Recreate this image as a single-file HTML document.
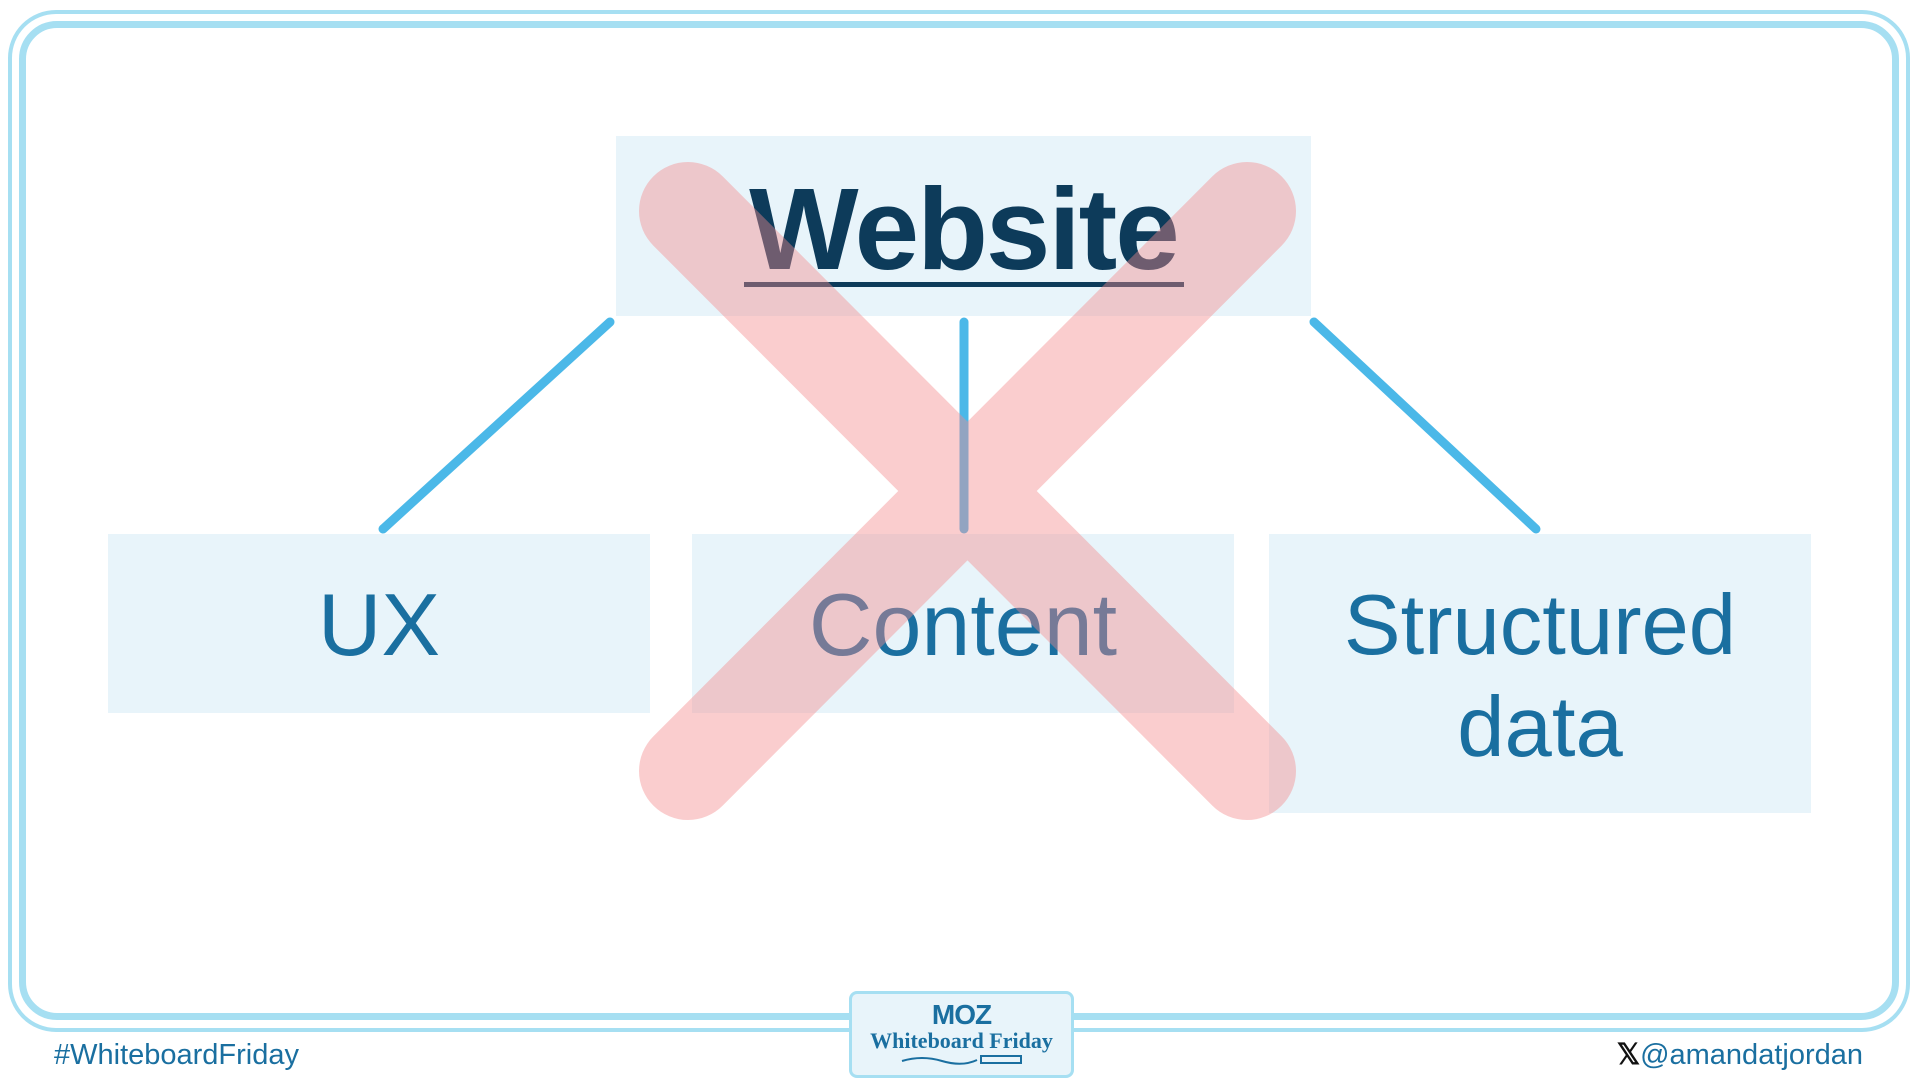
<!DOCTYPE html>
<html><head><meta charset="utf-8"><style>
html,body{margin:0;padding:0;background:#fff;}
body{width:1920px;height:1080px;position:relative;overflow:hidden;font-family:"Liberation Sans",sans-serif;}
.b{position:absolute;background:#e8f4fa;}
.t{position:absolute;color:#1a6fa0;font-size:88px;text-align:center;line-height:100px;}
</style></head><body>
<div style="position:absolute;left:8px;top:10px;width:1902px;height:1022px;border:4px solid #a6dff2;border-radius:48px;box-sizing:border-box;"></div>
<div style="position:absolute;left:19px;top:21px;width:1880px;height:999px;border:7px solid #a6dff2;border-radius:38px;box-sizing:border-box;"></div>
<div class="b" style="left:616px;top:136px;width:695px;height:180px;"></div>
<div class="b" style="left:108px;top:534px;width:542px;height:179px;"></div>
<div class="b" style="left:692px;top:534px;width:542px;height:179px;"></div>
<div class="b" style="left:1269px;top:534px;width:542px;height:279px;"></div>
<div style="position:absolute;left:616px;top:164px;width:695px;text-align:center;font-size:116px;font-weight:bold;color:#0d3b5a;line-height:130px;letter-spacing:-2px;">Website</div>
<div style="position:absolute;left:744px;top:282px;width:440px;height:5px;background:#0d3b5a;"></div>
<div class="t" style="left:108px;top:575px;width:542px;">UX</div>
<div class="t" style="left:692px;top:575px;width:542px;">Content</div>
<div class="t" style="left:1269px;top:575px;width:542px;line-height:102px;font-size:85px;">Structured<br>data</div>
<svg width="1920" height="1080" style="position:absolute;left:0;top:0;">
<g stroke="#4bb8e8" stroke-width="9" stroke-linecap="round">
<line x1="610" y1="322" x2="383" y2="529"/><line x1="964" y1="322" x2="964" y2="529"/><line x1="1314" y1="322" x2="1536" y2="529"/>
</g>
<g opacity="0.42" stroke="#f58a8c" stroke-width="98" stroke-linecap="round">
<line x1="688" y1="211" x2="1247" y2="771"/><line x1="1247" y1="211" x2="688" y2="771"/>
</g>
</svg>
<div style="position:absolute;left:54px;top:1039px;font-size:29px;color:#1a6fa0;">#WhiteboardFriday</div>
<div style="position:absolute;right:57px;top:1037px;font-size:29px;color:#1a6fa0;"><span style="color:#111;font-weight:bold;">𝕏</span>@amandatjordan</div>
<div style="position:absolute;left:849px;top:991px;width:225px;height:87px;background:#e8f4fa;border:3px solid #a6dff2;border-radius:8px;box-sizing:border-box;text-align:center;color:#1a6fa0;">
<div style="font-size:28px;font-weight:900;line-height:28px;margin-top:7px;letter-spacing:-1px;">MOZ</div>
<div style="font-family:'Liberation Serif',serif;font-size:22px;line-height:24px;font-weight:bold;">Whiteboard Friday</div>
<svg width="130" height="14" viewBox="0 0 130 14"><path d="M5 8 Q25 2 45 8 T80 7" stroke="#1a6fa0" stroke-width="2" fill="none"/><rect x="84" y="3" width="40" height="7" fill="none" stroke="#1a6fa0" stroke-width="2"/></svg>
</div>
</body></html>
